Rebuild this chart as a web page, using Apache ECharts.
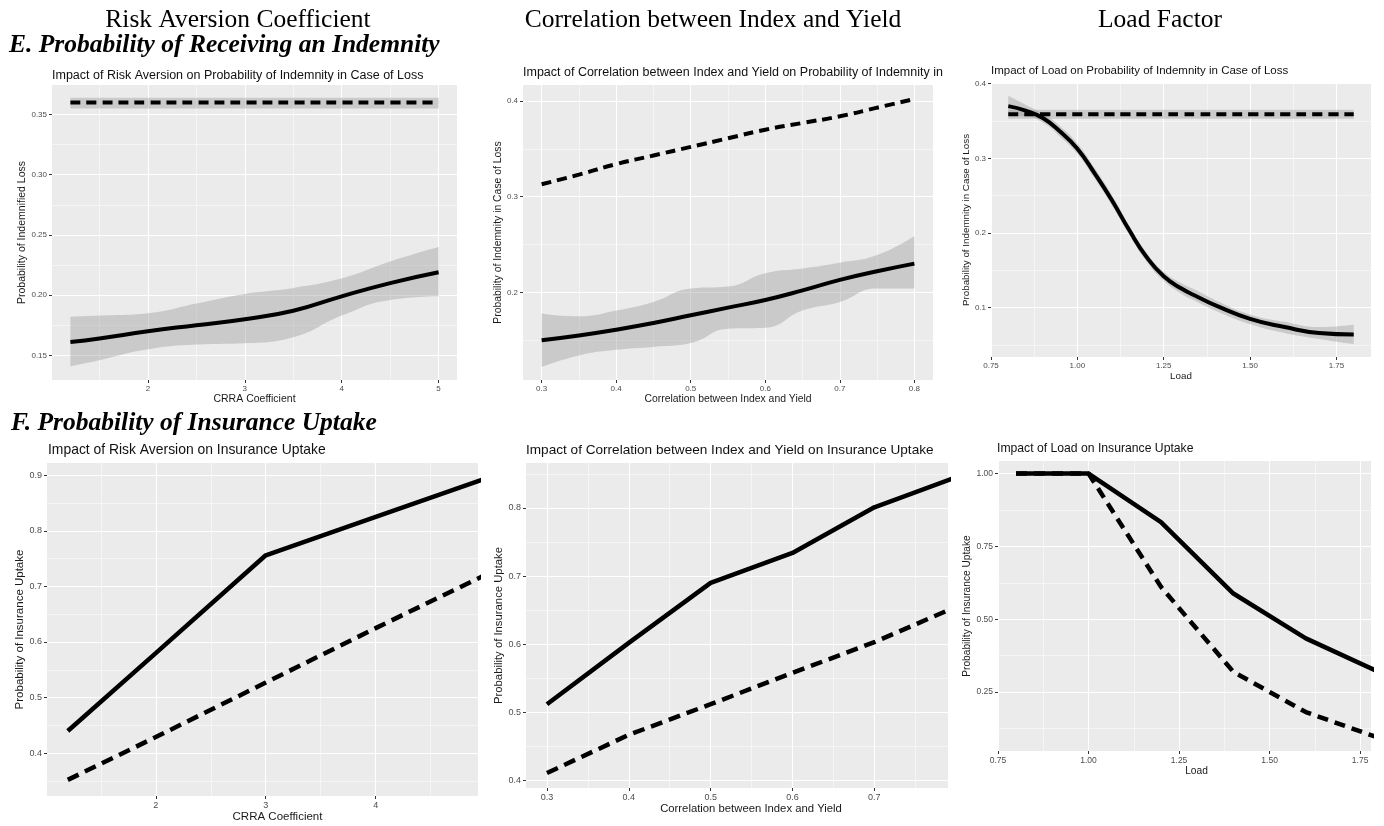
<!DOCTYPE html>
<html>
<head>
<meta charset="utf-8">
<script src="https://cdn.jsdelivr.net/npm/echarts@6/dist/echarts.min.js"></script>
<style>html,body{margin:0;padding:0;background:#fff}#c{width:1384px;height:826px}</style>
</head>
<body>
<div id="c"></div>
<script>
// ---------- Data ----------
// Panel E1: Risk aversion -> probability of indemnity (loess fits with CI)
const crraSmoothX = [1.2, 1.5, 2, 2.5, 3, 3.5, 4, 4.5, 5];
const riskIndemSolid = [0.161, 0.164, 0.170, 0.175, 0.180, 0.187, 0.199, 0.210, 0.219];
const riskIndemSolidUpper = [0.182, 0.183, 0.185, 0.193, 0.201, 0.206, 0.214, 0.228, 0.240];
const riskIndemSolidLower = [0.141, 0.146, 0.155, 0.159, 0.160, 0.165, 0.183, 0.196, 0.199];
const riskIndemDashed = [0.360, 0.360, 0.360, 0.360, 0.360, 0.360, 0.360, 0.360, 0.360];
const riskIndemDashedUpper = [0.364, 0.364, 0.364, 0.364, 0.364, 0.364, 0.364, 0.364, 0.364];
const riskIndemDashedLower = [0.355, 0.355, 0.355, 0.355, 0.355, 0.355, 0.355, 0.355, 0.355];

// Panel E2: Correlation -> probability of indemnity
const corrSmoothX = [0.3, 0.35, 0.4, 0.45, 0.5, 0.55, 0.6, 0.65, 0.7, 0.75, 0.8];
const corrIndemSolid = [0.150, 0.155, 0.161, 0.168, 0.176, 0.184, 0.192, 0.202, 0.213, 0.222, 0.230];
const corrIndemSolidUpper = [0.178, 0.175, 0.181, 0.190, 0.204, 0.206, 0.220, 0.225, 0.231, 0.239, 0.259];
const corrIndemSolidLower = [0.122, 0.134, 0.140, 0.143, 0.147, 0.162, 0.163, 0.181, 0.190, 0.204, 0.204];
const corrIndemDashed = [0.313, 0.323, 0.334, 0.343, 0.352, 0.361, 0.370, 0.377, 0.384, 0.393, 0.402];

// Panel E3: Load -> probability of indemnity
const loadSmoothX = [0.8, 0.85, 0.9, 0.95, 1.0, 1.05, 1.1, 1.15, 1.2, 1.25, 1.3, 1.35, 1.4, 1.5, 1.6, 1.7, 1.8];
const loadIndemSolid = [0.370, 0.364, 0.354, 0.336, 0.313, 0.280, 0.244, 0.204, 0.168, 0.142, 0.126, 0.114, 0.103, 0.085, 0.074, 0.066, 0.064];
const loadIndemSolidUpper = [0.384, 0.372, 0.360, 0.343, 0.320, 0.287, 0.251, 0.210, 0.174, 0.148, 0.133, 0.122, 0.110, 0.091, 0.081, 0.074, 0.077];
const loadIndemSolidLower = [0.357, 0.356, 0.348, 0.329, 0.306, 0.273, 0.237, 0.198, 0.162, 0.136, 0.119, 0.107, 0.096, 0.078, 0.066, 0.058, 0.051];
const loadIndemDashed = [0.359, 0.359, 0.359, 0.359, 0.359, 0.359, 0.359, 0.359, 0.359, 0.359, 0.359, 0.359, 0.359, 0.359, 0.359, 0.359, 0.359];
const loadIndemDashedUpper = [0.365, 0.365, 0.365, 0.365, 0.365, 0.365, 0.365, 0.365, 0.365, 0.365, 0.365, 0.365, 0.365, 0.365, 0.365, 0.365, 0.365];
const loadIndemDashedLower = [0.353, 0.353, 0.353, 0.353, 0.353, 0.353, 0.353, 0.353, 0.353, 0.353, 0.353, 0.353, 0.353, 0.353, 0.353, 0.353, 0.353];

// Panel F1: Risk aversion -> uptake
const crraLevels = [1.2, 2, 3, 4, 5];
const riskUptakeSolid = [0.440, 0.580, 0.756, 0.825, 0.894];
const riskUptakeDashed = [0.352, 0.429, 0.527, 0.625, 0.721];

// Panel F2: Correlation -> uptake
const corrLevels = [0.3, 0.4, 0.5, 0.6, 0.7, 0.8];
const corrUptakeSolid = [0.512, 0.602, 0.690, 0.734, 0.801, 0.845];
const corrUptakeDashed = [0.411, 0.467, 0.512, 0.558, 0.603, 0.655];

// Panel F3: Load -> uptake
const loadLevels = [0.8, 1.0, 1.2, 1.4, 1.6, 1.8];
const loadUptakeSolid = [1.000, 1.000, 0.833, 0.588, 0.434, 0.320];
const loadUptakeDashed = [1.000, 1.000, 0.611, 0.319, 0.181, 0.093];

// Tick labels
const crraTickLabels = ['2', '3', '4', '5'];
const crraTickLabelsF = ['2', '3', '4'];
const corrTickLabels = ['0.3', '0.4', '0.5', '0.6', '0.7', '0.8'];
const corrTickLabelsF = ['0.3', '0.4', '0.5', '0.6', '0.7'];
const loadTickLabels = ['0.75', '1.00', '1.25', '1.50', '1.75'];
const riskIndemYLabels = ['0.15', '0.20', '0.25', '0.30', '0.35'];
const corrIndemYLabels = ['0.2', '0.3', '0.4'];
const loadIndemYLabels = ['0.1', '0.2', '0.3', '0.4'];
const riskUptakeYLabels = ['0.4', '0.5', '0.6', '0.7', '0.8', '0.9'];
const corrUptakeYLabels = ['0.4', '0.5', '0.6', '0.7', '0.8'];
const loadUptakeYLabels = ['0.25', '0.50', '0.75', '1.00'];

// Headings and titles
const columnHeads = ['Risk Aversion Coefficient', 'Correlation between Index and Yield', 'Load Factor'];
const rowHeads = ['E. Probability of Receiving an Indemnity', 'F. Probability of Insurance Uptake'];
const panelTitles = [
  'Impact of Risk Aversion on Probability of Indemnity in Case of Loss',
  'Impact of Correlation between Index and Yield on Probability of Indemnity in Case of Loss',
  'Impact of Load on Probability of Indemnity in Case of Loss',
  'Impact of Risk Aversion on Insurance Uptake',
  'Impact of Correlation between Index and Yield on Insurance Uptake',
  'Impact of Load on Insurance Uptake'
];
const xNames = ['CRRA Coefficient', 'Correlation between Index and Yield', 'Load', 'CRRA Coefficient', 'Correlation between Index and Yield', 'Load'];
const yNames = ['Probability of Indemnified Loss', 'Probability of Indemnity in Case of Loss', 'Probability of Indemnity in Case of Loss',
  'Probability of Insurance Uptake', 'Probability of Insurance Uptake', 'Probability of Insurance Uptake'];

// ---------- Build ----------
const SANS = 'Liberation Sans';
const SERIF = 'Liberation Serif';
const RIBBON = 'rgba(153,153,153,0.4)';
const zip = (xs, ys) => xs.map((x, i) => [x, ys[i]]);

function midpoints(labels, min, max) {
  const v = labels.map(Number);
  const step = v.length > 1 ? v[1] - v[0] : 1;
  const out = [];
  for (let t = v[0] - step / 2; t <= max + 1e-9; t += step) {
    if (t >= min - 1e-9) out.push(+t.toFixed(6));
  }
  return out;
}

const panels = [
  { grid: { left: 52, top: 85, width: 405, height: 295 }, x: [1.01, 5.19], y: [0.1295, 0.3745],
    xT: crraTickLabels, yT: riskIndemYLabels, fs: 8, nfs: 10.5, xGap: 14, yGap: 23, namePad: 0, title: [52, 75.5, 12.5] },
  { grid: { left: 523, top: 85, width: 410, height: 295 }, x: [0.275, 0.825], y: [0.1084, 0.4167],
    xT: corrTickLabels, yT: corrIndemYLabels, fs: 8, nfs: 10.4, xGap: 14, yGap: 17, namePad: 0, title: [523, 73, 12.5], titleW: 421 },
  { grid: { left: 991, top: 83, width: 380, height: 274 }, x: [0.75, 1.85], y: [0.0339, 0.401],
    xT: loadTickLabels, yT: loadIndemYLabels, fs: 8, nfs: 9.8, xGap: 13, yGap: 16, namePad: 0, title: [991, 71, 11.5] },
  { grid: { left: 47, top: 463, width: 431, height: 333 }, x: [1.011, 4.93], y: [0.323, 0.922],
    xT: crraTickLabelsF, yT: riskUptakeYLabels, fs: 9, nfs: 11.5, xGap: 15, yGap: 20, namePad: 30, title: [48, 450, 13.9] },
  { grid: { left: 526, top: 463, width: 422, height: 325 }, x: [0.2744, 0.790], y: [0.389, 0.866],
    xT: corrTickLabelsF, yT: corrUptakeYLabels, fs: 9, nfs: 11.3, xGap: 15, yGap: 20, namePad: 28, title: [526, 450, 13.6] },
  { grid: { left: 998, top: 461, width: 373, height: 290 }, x: [0.75, 1.78], y: [0.0474, 1.043],
    xT: loadTickLabels, yT: loadUptakeYLabels, fs: 8.5, nfs: 10.2, xGap: 14, yGap: 24, namePad: 24, title: [997, 449, 12.2] }
];

const option = { animation: false, backgroundColor: '#ffffff', grid: [], xAxis: [], yAxis: [], series: [], graphic: [] };

function fmtFrom(labels) {
  return v => { const l = labels.find(s => Math.abs(Number(s) - v) < 1e-6); return l === undefined ? '' : l; };
}

panels.forEach((p, i) => {
  option.grid.push(Object.assign({ show: true, backgroundColor: '#EBEBEB', borderWidth: 0, containLabel: false }, p.grid));
  const majorX = p.xT.map(Number).filter(v => v >= p.x[0] - 1e-9 && v <= p.x[1] + 1e-9);
  const majorY = p.yT.map(Number);
  const minorX = midpoints(p.xT, p.x[0], p.x[1]);
  const minorY = midpoints(p.yT, p.y[0], p.y[1]);
  const nameStyle = { fontFamily: SANS, fontSize: p.nfs, color: '#1a1a1a' };
  option.xAxis.push({
    type: 'value', gridIndex: i, min: p.x[0], max: p.x[1], position: 'bottom',
    name: xNames[i], nameLocation: 'middle', nameGap: p.xGap,
    nameTextStyle: Object.assign({ padding: [0, 0, 0, p.namePad] }, nameStyle),
    axisLine: { show: false },
    axisTick: { show: true, length: 3, customValues: majorX, lineStyle: { color: '#333333', width: 1 } },
    axisLabel: { customValues: majorX, formatter: fmtFrom(p.xT), fontFamily: SANS, fontSize: p.fs, color: '#4d4d4d', margin: 5 },
    splitLine: { show: true, lineStyle: { color: '#ffffff', width: 1.1 } }
  });
  option.xAxis.push({
    type: 'value', gridIndex: i, min: p.x[0], max: p.x[1], position: 'top',
    axisLine: { show: false }, axisTick: { show: false, customValues: minorX },
    axisLabel: { show: false, customValues: minorX },
    splitLine: { show: true, lineStyle: { color: '#ffffff', width: 0.5 } }
  });
  option.yAxis.push({
    type: 'value', gridIndex: i, min: p.y[0], max: p.y[1], position: 'left',
    name: yNames[i], nameLocation: 'middle', nameGap: p.yGap, nameTextStyle: nameStyle,
    axisLine: { show: false },
    axisTick: { show: true, length: 3, customValues: majorY, lineStyle: { color: '#333333', width: 1 } },
    axisLabel: { customValues: majorY, formatter: fmtFrom(p.yT), fontFamily: SANS, fontSize: p.fs, color: '#4d4d4d', margin: 5 },
    splitLine: { show: true, lineStyle: { color: '#ffffff', width: 1.1 } }
  });
  option.yAxis.push({
    type: 'value', gridIndex: i, min: p.y[0], max: p.y[1], position: 'right',
    axisLine: { show: false }, axisTick: { show: false, customValues: minorY },
    axisLabel: { show: false, customValues: minorY },
    splitLine: { show: true, lineStyle: { color: '#ffffff', width: 0.5 } }
  });
  const t = p.title;
  const ts = { text: panelTitles[i], x: t[0], y: t[1], font: t[2] + 'px "' + SANS + '"', fill: '#111111', textAlign: 'left', textVerticalAlign: 'middle' };
  if (p.titleW) { ts.width = p.titleW; ts.overflow = 'truncate'; ts.ellipsis = ''; }
  option.graphic.push({ type: 'text', silent: true, style: ts });
});

// Confidence ribbon: a stacked pair (lower edge + band height). Data are given as [y, x]
// with encode so that the stacked dimension is the y value.
function ribbon(pi, tag, xs, lower, upper) {
  const stack = 'rb' + pi + tag;
  const base = { type: 'line', xAxisIndex: pi * 2, yAxisIndex: pi * 2, stack: stack, smooth: true, symbol: 'none',
    silent: true, encode: { x: 1, y: 0 }, z: 1, clip: true };
  option.series.push(Object.assign({}, base, {
    data: xs.map((x, k) => [lower[k], x]), lineStyle: { opacity: 0, width: 0 }
  }));
  option.series.push(Object.assign({}, base, {
    data: xs.map((x, k) => [+(upper[k] - lower[k]).toFixed(4), x]), lineStyle: { opacity: 0, width: 0 },
    areaStyle: { color: RIBBON, opacity: 1 }
  }));
}
function curve(pi, xs, ys, dashed, smooth, width, dash) {
  option.series.push({
    type: 'line', xAxisIndex: pi * 2, yAxisIndex: pi * 2, smooth: smooth, symbol: 'none', silent: true,
    data: zip(xs, ys), lineStyle: { color: '#000000', width: width, type: dashed ? dash : 'solid', cap: 'butt' }, z: 3
  });
}

// E row
ribbon(0, 'd', crraSmoothX, riskIndemDashedLower, riskIndemDashedUpper);
ribbon(0, 's', crraSmoothX, riskIndemSolidLower, riskIndemSolidUpper);
curve(0, crraSmoothX, riskIndemDashed, true, true, 4, [10, 6]);
curve(0, crraSmoothX, riskIndemSolid, false, true, 4);

ribbon(1, 's', corrSmoothX, corrIndemSolidLower, corrIndemSolidUpper);
curve(1, corrSmoothX, corrIndemDashed, true, true, 4, [10, 6]);
curve(1, corrSmoothX, corrIndemSolid, false, true, 4);

ribbon(2, 'd', loadSmoothX, loadIndemDashedLower, loadIndemDashedUpper);
ribbon(2, 's', loadSmoothX, loadIndemSolidLower, loadIndemSolidUpper);
curve(2, loadSmoothX, loadIndemDashed, true, true, 4, [10, 6]);
curve(2, loadSmoothX, loadIndemSolid, false, true, 4);

// F row
curve(3, crraLevels, riskUptakeDashed, true, false, 4.5, [12, 7]);
curve(3, crraLevels, riskUptakeSolid, false, false, 4.5);
curve(4, corrLevels, corrUptakeDashed, true, false, 4.5, [12, 7]);
curve(4, corrLevels, corrUptakeSolid, false, false, 4.5);
curve(5, loadLevels, loadUptakeDashed, true, false, 4.5, [11, 7]);
curve(5, loadLevels, loadUptakeSolid, false, false, 4.5);

// Headings
const headX = [238, 713, 1160];
columnHeads.forEach((h, k) => option.graphic.push({ type: 'text', silent: true,
  style: { text: h, x: headX[k], y: 20, font: '25.5px "' + SERIF + '"', fill: '#000', textAlign: 'center', textVerticalAlign: 'middle' } }));
const rowY = [45, 423.5];
rowHeads.forEach((h, k) => option.graphic.push({ type: 'text', silent: true,
  style: { text: h, x: k === 0 ? 9 : 11, y: rowY[k], font: 'italic bold 25.5px "' + SERIF + '"', fill: '#000', textAlign: 'left', textVerticalAlign: 'middle' } }));

const chart = echarts.init(document.getElementById('c'), null, { renderer: 'canvas' });
chart.setOption(option);
</script>
</body>
</html>
